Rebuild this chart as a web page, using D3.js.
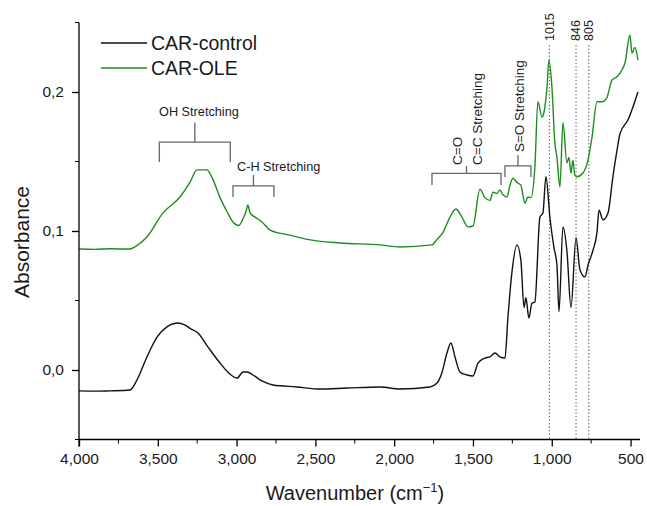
<!DOCTYPE html>
<html>
<head>
<meta charset="utf-8">
<script src="https://d3js.org/d3.v7.min.js"></script>
<style>
	body { margin: 0; background: #fff; }
	text { font-family: "Liberation Sans", Arial, sans-serif; fill: #1a1a1a; }
</style>
</head>
<body>
<svg id="chart"></svg>

<script>
	// CAR-control spectrum (wavenumber, absorbance)
	const controlWn = [4000, 3900, 3800, 3720, 3676, 3632, 3569, 3505, 3442, 3372, 3330, 3296, 3245, 3181, 3105, 3042, 2997, 2959, 2934, 2896, 2839, 2769, 2617, 2471, 2300, 2090, 1963, 1773, 1728, 1697, 1665, 1640, 1614, 1583, 1538, 1500, 1468, 1424, 1392, 1360, 1329, 1297, 1278, 1253, 1221, 1196, 1176, 1164, 1145, 1126, 1107, 1075, 1056, 1037, 1011, 986, 967, 954, 929, 904, 878, 846, 821, 789, 770, 739, 713, 700, 675, 643, 612, 586, 567, 516, 453];
	const controlAbs = [-0.0150, -0.0152, -0.0150, -0.0148, -0.0144, -0.0072, 0.0094, 0.0237, 0.0310, 0.0338, 0.0325, 0.0300, 0.0266, 0.0165, 0.0050, -0.0029, -0.0058, -0.0014, -0.0014, -0.0036, -0.0079, -0.0108, -0.0122, -0.0137, -0.0130, -0.0122, -0.0137, -0.0122, -0.0094, -0.0020, 0.0122, 0.0194, 0.0094, -0.0014, -0.0036, -0.0043, 0.0050, 0.0086, 0.0094, 0.0122, 0.0094, 0.0086, 0.0380, 0.0700, 0.0900, 0.0790, 0.0450, 0.0520, 0.0374, 0.0480, 0.0490, 0.1100, 0.1130, 0.1390, 0.1090, 0.0880, 0.0755, 0.0420, 0.1030, 0.0860, 0.0450, 0.0950, 0.0720, 0.0670, 0.0755, 0.0860, 0.0990, 0.1150, 0.1080, 0.1130, 0.1390, 0.1580, 0.1700, 0.1800, 0.2000];

	// CAR-OLE spectrum
	const oleWn = [4000, 3900, 3800, 3676, 3640, 3569, 3467, 3359, 3296, 3251, 3188, 3150, 3105, 3061, 3023, 2985, 2959, 2940, 2928, 2915, 2883, 2839, 2788, 2661, 2553, 2344, 2090, 1963, 1760, 1728, 1690, 1646, 1608, 1570, 1532, 1500, 1456, 1424, 1392, 1373, 1348, 1329, 1310, 1284, 1265, 1246, 1221, 1196, 1170, 1151, 1132, 1107, 1088, 1062, 1049, 1030, 1018, 999, 980, 967, 948, 929, 904, 891, 878, 866, 853, 840, 802, 770, 745, 713, 681, 650, 618, 586, 554, 535, 504, 491, 472, 453];
	const oleAbs = [0.0870, 0.0868, 0.0872, 0.0870, 0.0890, 0.0957, 0.1130, 0.1245, 0.1350, 0.1440, 0.1440, 0.1370, 0.1240, 0.1140, 0.1065, 0.1040, 0.1090, 0.1140, 0.1187, 0.1130, 0.1100, 0.1065, 0.1007, 0.0970, 0.0940, 0.0914, 0.0900, 0.0885, 0.0900, 0.0940, 0.0990, 0.1100, 0.1158, 0.1100, 0.1030, 0.1036, 0.1300, 0.1240, 0.1220, 0.1280, 0.1270, 0.1295, 0.1260, 0.1245, 0.1330, 0.1380, 0.1350, 0.1330, 0.1200, 0.1245, 0.1240, 0.1460, 0.1930, 0.1820, 0.1856, 0.2036, 0.2230, 0.2036, 0.1630, 0.1530, 0.1317, 0.1780, 0.1490, 0.1530, 0.1417, 0.1510, 0.1400, 0.1390, 0.1417, 0.1510, 0.1670, 0.1930, 0.1930, 0.1960, 0.2086, 0.2110, 0.2160, 0.2210, 0.2410, 0.2280, 0.2320, 0.2230];

	const seriesNames = ["CAR-control", "CAR-OLE"];
	const seriesColors = ["#111111", "#1f8c1f"];

	const xTicks = [4000, 3500, 3000, 2500, 2000, 1500, 1000, 500];
	const xMinor = [3750, 3250, 2750, 2250, 1750, 1250, 750];
	const yTicks = [0.0, 0.1, 0.2];
	const yMinor = [-0.05, 0.05, 0.15, 0.25];

	// marked peaks: label and where the dotted line sits
	const peakLabels = ["1015", "846", "805"];
	const peakPos = [1015, 846, 765];

	// band brackets (wavenumber range, absorbance of the bar)
	const bands = [
		{ lines: ["OH Stretching"], from: 3490, to: 3040, bar: 0.164, stem: 0.178, leg: 0.1496, rotate: false, labelWn: [3239], labelAbs: 0.183, anchor: "middle" },
		{ lines: ["C-H Stretching"], from: 3023, to: 2763, bar: 0.1324, stem: 0.1403, leg: 0.1245, rotate: false, labelWn: [2997], labelAbs: 0.1432, anchor: "start" },
		{ lines: ["C=O", "C=C Stretching"], from: 1760, to: 1322, bar: 0.1414, stem: 0.1468, leg: 0.1331, rotate: true, labelWn: [1601, 1475], labelAbs: 0.1475 },
		{ lines: ["S=O Stretching"], from: 1297, to: 1132, bar: 0.1468, stem: 0.1547, leg: 0.1389, rotate: true, labelWn: [1208], labelAbs: 0.1568 }
	];

	const width = 647, height = 506;
	const svg = d3.select("#chart").attr("width", width).attr("height", height);

	const x = d3.scaleLinear().domain([4000, 440]).range([79, 640]);
	const y = d3.scaleLinear().domain([-0.05, 0.25]).range([439.5, 22.5]);

	const locale = d3.formatLocale({ decimal: ",", thousands: ",", grouping: [3], currency: ["", ""] });
	const fmtX = locale.format(",");
	const fmtY = locale.format(".1f");

	// dotted peak lines
	peakPos.forEach((p, i) => {
		svg.append("line")
			.attr("x1", x(p)).attr("x2", x(p))
			.attr("y1", 45).attr("y2", y(-0.05))
			.attr("stroke", "#666").attr("stroke-width", 1)
			.attr("stroke-dasharray", "1.5,2");
		svg.append("text")
			.attr("transform", `translate(${x(p)},41) rotate(-90)`)
			.attr("dy", "0.35em")
			.attr("font-size", 12.5)
			.text(peakLabels[i]);
	});

	// spectra
	const line = d3.line()
		.x(d => x(d[0]))
		.y(d => y(d[1]))
		.curve(d3.curveMonotoneX);

	const spectra = [d3.zip(controlWn, controlAbs), d3.zip(oleWn, oleAbs)];
	spectra.forEach((s, i) => {
		svg.append("path")
			.datum(s)
			.attr("fill", "none")
			.attr("stroke", seriesColors[i])
			.attr("stroke-width", 1.4)
			.attr("stroke-linejoin", "round")
			.attr("d", line);
	});

	// brackets
	const bc = "#666";
	bands.forEach(b => {
		const g = svg.append("g").attr("stroke", bc).attr("stroke-width", 1.3).attr("fill", "none");
		const mid = (b.from + b.to) / 2;
		g.append("path")
			.attr("d", `M${x(b.from)},${y(b.leg)}V${y(b.bar)}H${x(b.to)}V${y(b.leg)}M${x(mid)},${y(b.bar)}V${y(b.stem)}`);
		b.lines.forEach((t, j) => {
			if (b.rotate) {
				svg.append("text")
					.attr("transform", `translate(${x(b.labelWn[j])},${y(b.labelAbs)}) rotate(-90)`)
					.attr("dy", "0.35em")
					.attr("font-size", 13.5)
					.text(t);
			} else {
				svg.append("text")
					.attr("x", x(b.labelWn[j]))
					.attr("y", y(b.labelAbs))
					.attr("text-anchor", b.anchor)
					.attr("font-size", 12.7)
					.text(t);
			}
		});
	});

	// axes
	const xAxis = svg.append("g").attr("transform", `translate(0,${y(-0.05)})`);
	xAxis.call(d3.axisBottom(x).tickValues(xTicks).tickFormat(fmtX).tickSize(7).tickPadding(6))
		.call(g => g.select(".domain").attr("d", `M${x(4000)},0H${x(440)}`));
	xAxis.selectAll(".minor").data(xMinor).enter().append("line")
		.attr("class", "minor")
		.attr("x1", d => x(d)).attr("x2", d => x(d))
		.attr("y1", 0).attr("y2", 4)
		.attr("stroke", "#000");

	const yAxis = svg.append("g").attr("transform", `translate(${x(4000)},0)`);
	yAxis.call(d3.axisLeft(y).tickValues(yTicks).tickFormat(fmtY).tickSize(7).tickPadding(8))
		.call(g => g.select(".domain").attr("d", `M0,${y(0.25)}V${y(-0.05) + 7}`));
	yAxis.selectAll(".minor").data(yMinor).enter().append("line")
		.attr("class", "minor")
		.attr("x1", -4).attr("x2", 0)
		.attr("y1", d => y(d)).attr("y2", d => y(d))
		.attr("stroke", "#000");

	svg.selectAll(".tick text").attr("font-size", 15.5).attr("fill", "#1a1a1a")
		.attr("font-family", "Liberation Sans, Arial, sans-serif");
	svg.selectAll(".domain, .tick line").attr("stroke", "#000").attr("stroke-width", 1.3);

	// axis titles
	const xt = svg.append("text")
		.attr("x", 355).attr("y", 500)
		.attr("text-anchor", "middle")
		.attr("font-size", 20);
	xt.append("tspan").text("Wavenumber (cm");
	xt.append("tspan").attr("font-size", 13).attr("dy", -8).text("\u22121");
	xt.append("tspan").attr("dy", 8).text(")");

	svg.append("text")
		.attr("transform", "translate(29,242) rotate(-90)")
		.attr("text-anchor", "middle")
		.attr("font-size", 21)
		.text("Absorbance");

	// legend
	seriesNames.forEach((n, i) => {
		const ly = 43 + i * 25;
		svg.append("line")
			.attr("x1", 101).attr("x2", 147)
			.attr("y1", ly).attr("y2", ly)
			.attr("stroke", seriesColors[i]).attr("stroke-width", 1.4);
		svg.append("text")
			.attr("x", 151).attr("y", ly)
			.attr("dy", "0.35em")
			.attr("font-size", 19.5)
			.text(n);
	});
</script>
</body>
</html>
